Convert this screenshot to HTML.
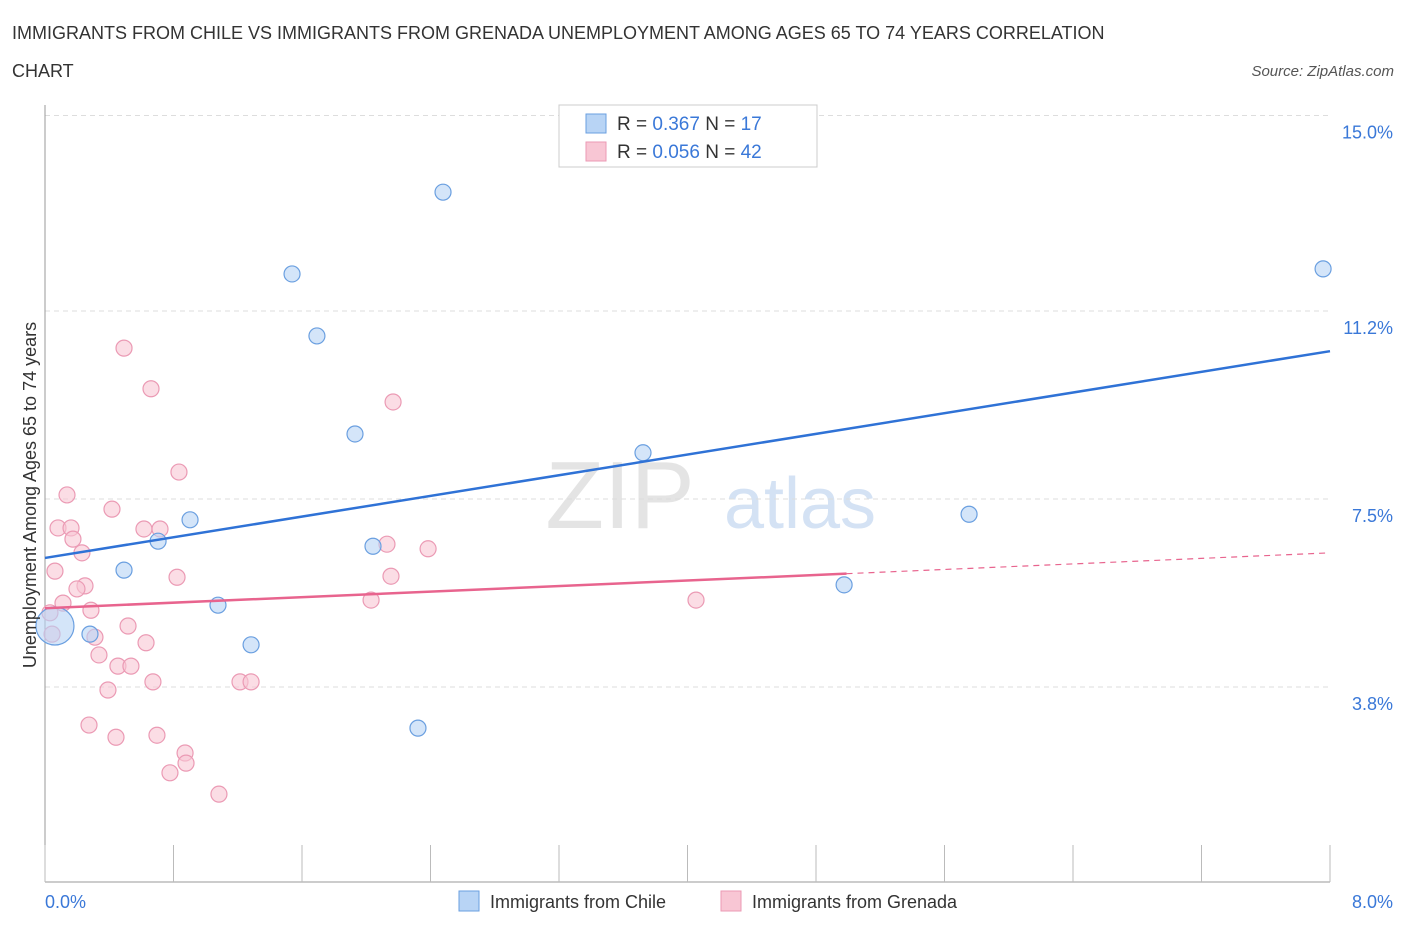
<!DOCTYPE html>
<html><head><meta charset="utf-8">
<style>
body{margin:0;background:#fff;font-family:"Liberation Sans",sans-serif;}
svg text{font-family:"Liberation Sans",sans-serif;}
</style></head>
<body>
<svg id="chart" width="1406" height="930" xmlns="http://www.w3.org/2000/svg">
<text x="12" y="39" font-size="18" fill="#333">IMMIGRANTS FROM CHILE VS IMMIGRANTS FROM GRENADA UNEMPLOYMENT AMONG AGES 65 TO 74 YEARS CORRELATION</text>
<text x="12" y="77" font-size="18" fill="#333">CHART</text>
<text x="1394" y="76" font-size="15" fill="#555" font-style="italic" text-anchor="end">Source: ZipAtlas.com</text>
<text x="620" y="528" font-size="96" fill="#e4e4e4" font-family="Liberation Serif" text-anchor="middle">ZIP</text>
<text x="800" y="528" font-size="72" fill="#d4e2f4" text-anchor="middle">atlas</text>
<g id="grid"></g>
<g id="axes"></g>
<g id="pts"></g>
<g id="lines"></g>
<text x="36" y="495" font-size="18" fill="#333" text-anchor="middle" transform="rotate(-90 36 495)">Unemployment Among Ages 65 to 74 years</text>
<g>
<rect x="559" y="105" width="258" height="62" fill="#fff" stroke="#ccc"/>
<rect x="586" y="114" width="20" height="19" fill="#b8d4f5" stroke="#6a9fe0"/>
<text x="617" y="130" font-size="19" fill="#333">R = <tspan fill="#3a78d8">0.367</tspan>   N = <tspan fill="#3a78d8">17</tspan></text>
<rect x="586" y="142" width="20" height="19" fill="#f8c6d4" stroke="#eb9ab4"/>
<text x="617" y="158" font-size="19" fill="#333">R = <tspan fill="#3a78d8">0.056</tspan>   N = <tspan fill="#3a78d8">42</tspan></text>
</g>
<g>
<rect x="459" y="891" width="20" height="20" fill="#b8d4f5" stroke="#6a9fe0"/>
<text x="490" y="908" font-size="18" fill="#333">Immigrants from Chile</text>
<rect x="721" y="891" width="20" height="20" fill="#f8c6d4" stroke="#eb9ab4"/>
<text x="752" y="908" font-size="18" fill="#333">Immigrants from Grenada</text>
</g>
</svg>
<script>
const blueX=[2.478,1.538,7.957,1.693,1.930,3.723,5.753,0.903,0.704,2.042,0.492,4.975,1.077,1.283,0.280,0.062,2.322];
const blueY=[13.54,11.93,12.03,10.71,8.78,8.41,7.20,7.09,6.67,6.57,6.10,5.81,5.41,4.63,4.84,5.00,2.99];
const pinkX=[0.492,0.660,2.167,0.834,0.137,0.417,0.081,0.162,0.616,0.716,0.174,2.129,2.385,0.230,0.062,0.822,2.154,0.249,0.199,0.112,2.030,4.053,0.286,0.031,0.517,0.044,0.311,0.629,0.336,0.454,0.535,0.672,1.214,1.283,0.392,0.274,0.442,0.697,0.872,0.878,0.778,1.083];
const pinkY=[10.47,9.67,9.41,8.03,7.58,7.30,6.93,6.93,6.91,6.91,6.71,6.61,6.52,6.44,6.08,5.96,5.98,5.79,5.73,5.45,5.51,5.51,5.31,5.26,5.00,4.84,4.78,4.67,4.43,4.21,4.21,3.90,3.90,3.90,3.74,3.05,2.81,2.85,2.50,2.30,2.11,1.69];
const yTicks=[15.0,11.2,7.5,3.8];
const yTickLabels=["15.0%","11.2%","7.5%","3.8%"];
const blueTrend=[6.34,10.41];
const pinkTrend=[5.35,6.44];
const pinkSolidEnd=4.99;
const NS="http://www.w3.org/2000/svg";
const sx=v=>45+v/8*1285, sy=v=>880-v*50.8;
function mk(tag,attrs,parent){const e=document.createElementNS(NS,tag);for(const k in attrs)e.setAttribute(k,attrs[k]);parent.appendChild(e);return e;}
const grid=document.getElementById('grid'),axes=document.getElementById('axes'),pts=document.getElementById('pts'),lines=document.getElementById('lines');
yTicks.forEach((t,i)=>{const yy=sy(t===15?15.05:t);
const l=mk('line',{x1:45,x2:1330,y1:yy,y2:yy,stroke:'#ddd','stroke-dasharray':'5,4'},grid);


const tx=mk('text',{x:1393,y:yy+23,'font-size':18,fill:'#3a78d8','text-anchor':'end'},grid);tx.textContent=yTickLabels[i];

});
const ya=mk('line',{x1:45,x2:45,y1:105,y2:882,stroke:'#999'},axes);


const xa=mk('line',{x1:45,x2:1330,y1:882,y2:882,stroke:'#999'},axes);


for(let i=0;i<=10;i++){const xx=sx(i*0.8);const t=mk('line',{x1:xx,x2:xx,y1:845,y2:882,stroke:'#bbb'},axes);

}
[["0.0%",45,'start'],["8.0%",1393,'end']].forEach(a=>{const t=mk('text',{x:a[1],y:908,'font-size':18,fill:'#3a78d8','text-anchor':a[2]},axes);t.textContent=a[0];

});
pinkX.forEach((x,i)=>{const c=mk('circle',{cx:sx(x),cy:sy(pinkY[i]),r:8,fill:'#f8c6d4','fill-opacity':0.6,stroke:'#eb9ab4','stroke-width':1.2},pts);

});
blueX.forEach((x,i)=>{const c=mk('circle',{cx:sx(x),cy:sy(blueY[i]),r:i===15?19:8,fill:'#b8d4f5','fill-opacity':0.6,stroke:'#6a9fe0','stroke-width':1.2},pts);

});
const bl=mk('line',{x1:sx(0),y1:sy(blueTrend[0]),x2:sx(8),y2:sy(blueTrend[1]),stroke:'#2f72d6','stroke-width':2.5},lines);


const pm=pinkTrend[0]+(pinkTrend[1]-pinkTrend[0])*pinkSolidEnd/8;
const pl=mk('line',{x1:sx(0),y1:sy(pinkTrend[0]),x2:sx(pinkSolidEnd),y2:sy(pm),stroke:'#e8648e','stroke-width':2.5},lines);


const pd=mk('line',{x1:sx(pinkSolidEnd),y1:sy(pm),x2:sx(8),y2:sy(pinkTrend[1]),stroke:'#e8648e','stroke-width':1.2,'stroke-dasharray':'6,5'},lines);


</script>
</body></html>
